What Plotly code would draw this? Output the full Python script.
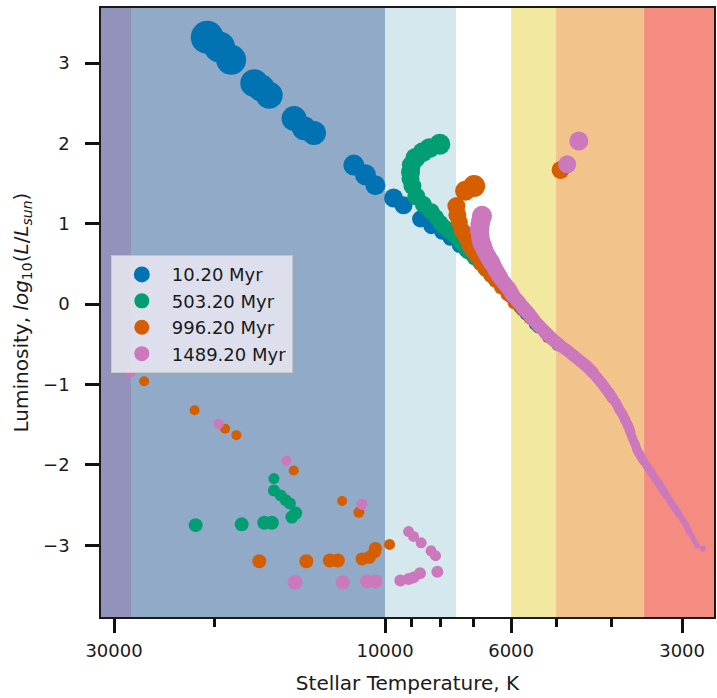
import plotly.graph_objects as go

# ---------------- data ----------------
series_names = ["10.20 Myr", "503.20 Myr", "996.20 Myr", "1489.20 Myr"]
series_colors = ["#0173B2", "#029E73", "#D55E00", "#CC78BC"]
legend_marker_sizes = [25, 15, 15, 15]

# 10.20 Myr
blue_T = [20560, 19560, 18660, 16990, 16520, 15990, 14460, 13890, 13340, 11350, 10830, 10400,
          9660, 9280, 8660, 8290, 7930, 7680, 7400, 7200, 7030, 6860, 6690, 6530, 6380,
          6200, 6030, 5840, 5650, 5450, 5230, 5030]
blue_L = [3.32, 3.20, 3.04, 2.75, 2.69, 2.60, 2.31, 2.19, 2.13, 1.73, 1.61, 1.48,
          1.32, 1.23, 1.06, 0.97, 0.90, 0.82, 0.73, 0.67, 0.61, 0.54, 0.46, 0.39, 0.30,
          0.20, 0.10, -0.01, -0.13, -0.25, -0.36, -0.47]
blue_size = [33, 31, 30, 28, 27, 27, 25, 24, 24, 21, 21, 20,
             19, 18, 17, 16, 16, 15, 15, 15, 14, 14, 14, 13, 13,
             13, 13, 12, 12, 12, 12, 11]

# 503.20 Myr
green_T = [8010, 8360, 8590, 8840, 8990, 9020, 9020, 8950, 8810, 8560, 8290, 8130, 7990,
           7840, 7710, 7550, 7400, 7260, 7140, 6970, 6800, 6640, 6480, 6330, 6150, 5980,
           5790, 5600, 5380, 5170, 4970]
green_L = [1.99, 1.94, 1.89, 1.82, 1.73, 1.64, 1.56, 1.47, 1.34, 1.24, 1.15, 1.08, 1.01,
           0.95, 0.91, 0.85, 0.78, 0.71, 0.65, 0.57, 0.50, 0.42, 0.34, 0.29, 0.22, 0.09,
           -0.04, -0.14, -0.29, -0.41, -0.51]
green_size = [21, 20, 20, 20, 19, 19, 18, 18, 18, 17, 17, 16, 16,
              16, 16, 15, 15, 15, 15, 14, 14, 14, 14, 13, 13, 13,
              13, 12, 12, 12, 12]
green_wd_T = [15690, 15690, 15260, 14950, 14710, 14360, 14590, 21550, 17880, 16320, 15820]
green_wd_L = [-2.17, -2.32, -2.38, -2.44, -2.48, -2.60, -2.65, -2.75, -2.74, -2.72, -2.72]
green_wd_size = [11, 12, 12, 12, 12, 13, 13, 14, 14, 14, 14]

# 996.20 Myr
orange_T = [6970, 7230, 7490, 7460, 7400, 7310, 7200, 7110, 7000, 6890, 6780, 6670, 6530,
            6400, 6250, 6100, 5930, 5740, 5560, 5380, 5170, 4970]
orange_L = [1.47, 1.41, 1.22, 1.11, 1.02, 0.91, 0.82, 0.73, 0.66, 0.59, 0.51, 0.44, 0.36,
            0.29, 0.21, 0.12, 0.02, -0.07, -0.17, -0.27, -0.40, -0.50]
orange_size = [22, 20, 18, 18, 17, 17, 16, 16, 16, 15, 15, 15, 14,
               14, 14, 13, 13, 13, 13, 12, 12, 12]
orange_post_T = [4910, 26550, 21640, 19120, 18270, 14480, 11900, 11120, 16650, 13760, 12510,
                 12110, 10980, 10660, 10430, 10400, 9820]
orange_post_L = [1.67, -0.96, -1.32, -1.55, -1.63, -2.07, -2.45, -2.59, -3.20, -3.20, -3.19,
                 -3.19, -3.17, -3.15, -3.08, -3.04, -2.99]
orange_post_size = [18, 10, 10, 10, 10, 10, 10, 11, 14, 14, 14, 14, 13, 13, 13, 13, 11]

# 1489.20 Myr
pink_ms_T = [6750, 6800, 6820, 6800, 6780, 6720, 6670, 6590, 6480, 6380,
             6280, 6150, 6050, 5960, 5840, 5720, 5600, 5490, 5360, 5210,
             5070, 4930, 4790, 4660, 4530, 4420, 4310, 4230, 4160, 4090,
             4030, 3980, 3920, 3870, 3820, 3780, 3730, 3700, 3670, 3630,
             3600, 3550, 3510, 3450, 3400, 3350, 3290, 3240, 3190, 3140,
             3090, 3040, 2990, 2950, 2920, 2880, 2850, 2820]
pink_ms_L = [1.10, 1.01, 0.92, 0.85, 0.78, 0.72, 0.66, 0.59, 0.51, 0.42,
             0.34, 0.25, 0.19, 0.11, 0.04, -0.04, -0.11, -0.19, -0.27, -0.36,
             -0.44, -0.51, -0.57, -0.64, -0.71, -0.77, -0.85, -0.92, -0.98, -1.05,
             -1.11, -1.17, -1.23, -1.31, -1.37, -1.44, -1.52, -1.59, -1.67, -1.74,
             -1.82, -1.89, -1.95, -2.03, -2.09, -2.17, -2.24, -2.32, -2.39, -2.47,
             -2.54, -2.61, -2.69, -2.75, -2.83, -2.89, -2.95, -3.01]
pink_ms_size = [20, 19, 19, 18, 18, 18, 17, 17, 17, 16,
                16, 15, 15, 15, 14, 14, 14, 14, 13, 13,
                13, 13, 12, 12, 12, 12, 12, 11, 11, 11,
                11, 11, 10, 10, 10, 10, 10, 10, 9, 9,
                9, 9, 9, 8, 8, 8, 8, 8, 7, 7,
                7, 7, 6, 6, 6, 5, 5, 5]
pink_post_T = [4560, 4780, 2760, 28060, 19620, 14920, 10980, 14400, 11870, 10760, 10400,
               9400, 9090, 8910, 8680, 9090, 8910, 8640, 8300, 8150, 8090]
pink_post_L = [2.03, 1.74, -3.04, -0.85, -1.49, -1.95, -2.49, -3.46, -3.46, -3.45, -3.45,
               -3.44, -3.42, -3.40, -3.35, -2.83, -2.89, -2.97, -3.07, -3.13, -3.33]
pink_post_size = [19, 18, 6, 10, 10, 10, 11, 15, 14, 14, 14, 12, 12, 12, 12, 11, 11, 11, 11, 11, 12]

# spectral-class bands (K)
band_edges = [50000, 28000, 10000, 7500, 6000, 5000, 3500, 2000]
band_colors = ["#9292BA", "#91AAC8", "#D4E8EE", "#FFFFFF", "#F2E8A0", "#F2C38A", "#F48C82"]

x_tick_vals = [30000, 10000, 6000, 3000]
x_tick_text = ["30000", "10000", "6000", "3000"]
x_minor_vals = [20000, 9000, 8000, 7000, 5000, 4000]
y_tick_vals = [-3, -2, -1, 0, 1, 2, 3]

x_range_log = [4.500, 3.421]
y_range = [-3.893, 3.685]

FONT = "DejaVu Sans"

# ---------------- figure ----------------
fig = go.Figure()

for i, col in enumerate(band_colors):
    fig.add_shape(type="rect", xref="x", yref="paper",
                  x0=band_edges[i], x1=band_edges[i + 1], y0=0, y1=1,
                  fillcolor=col, line_width=0, layer="below")


def add_series(T, L, S, color):
    fig.add_trace(go.Scatter(x=T, y=L, mode="markers",
                             marker=dict(size=S, color=color, line_width=0, opacity=1),
                             showlegend=False, hoverinfo="skip"))


def add_track_core(T, L, S, color):
    # join consecutive points of a dense track with strokes as wide as the markers
    groups = {}
    for i in range(len(T) - 1):
        w = min(S[i], S[i + 1])
        xs, ys = groups.setdefault(w, ([], []))
        xs += [T[i], T[i + 1], None]
        ys += [L[i], L[i + 1], None]
    for w, (xs, ys) in groups.items():
        fig.add_trace(go.Scatter(x=xs, y=ys, mode="lines",
                                 line=dict(color=color, width=w),
                                 showlegend=False, hoverinfo="skip"))


add_series(blue_T, blue_L, blue_size, series_colors[0])
add_series(green_T + green_wd_T, green_L + green_wd_L, green_size + green_wd_size, series_colors[1])
add_series(orange_T + orange_post_T, orange_L + orange_post_L, orange_size + orange_post_size, series_colors[2])
add_track_core(pink_ms_T, pink_ms_L, pink_ms_size, series_colors[3])
add_series(pink_ms_T + pink_post_T, pink_ms_L + pink_post_L, pink_ms_size + pink_post_size, series_colors[3])

# legend entries
for name, col, ms in zip(series_names, series_colors, legend_marker_sizes):
    fig.add_trace(go.Scatter(x=[None], y=[None], mode="markers", name=name,
                             marker=dict(size=ms, color=col)))

fig.update_layout(
    width=717, height=698,
    margin=dict(l=101, r=1, t=8, b=81),
    paper_bgcolor="white", plot_bgcolor="white",
    font=dict(family=FONT, size=18, color="#1a1a1a"),
    legend=dict(x=0.016, y=0.594, xanchor="left", yanchor="top",
                bgcolor="rgba(234,234,242,0.85)", bordercolor="rgba(200,200,200,0.9)",
                borderwidth=1, font=dict(family=FONT, size=18, color="#1a1a1a"),
                itemsizing="trace", itemwidth=50,
                entrywidth=150, entrywidthmode="pixels"),
)

fig.update_xaxes(type="log", range=x_range_log, showgrid=False, zeroline=False,
                 showline=True, mirror=True, linecolor="#1a1a1a", linewidth=1.5,
                 ticks="outside", ticklen=14, tickwidth=3, tickcolor="#111",
                 tickvals=x_tick_vals, ticktext=x_tick_text, ticklabelstandoff=3,
                 tickfont=dict(family=FONT, size=18, color="#1a1a1a"),
                 minor=dict(tickvals=x_minor_vals, ticks="outside", ticklen=8, tickwidth=2.5,
                            tickcolor="#111", showgrid=False),
                 title=dict(text="Stellar Temperature, K", font=dict(family=FONT, size=20, color="#1a1a1a"),
                            standoff=16))
fig.update_yaxes(range=y_range, showgrid=False, zeroline=False,
                 showline=True, mirror=True, linecolor="#1a1a1a", linewidth=1.5,
                 ticks="outside", ticklen=14, tickwidth=3, tickcolor="#111",
                 tickvals=y_tick_vals, ticklabelstandoff=12,
                 tickfont=dict(family=FONT, size=18, color="#1a1a1a"),
                 title=dict(text="Luminosity, <i>log</i><sub>10</sub>(<i>L</i>/<i>L</i><sub><i>sun</i></sub>)",
                            font=dict(family=FONT, size=20, color="#1a1a1a"), standoff=9))

fig.write_html("out.html")
